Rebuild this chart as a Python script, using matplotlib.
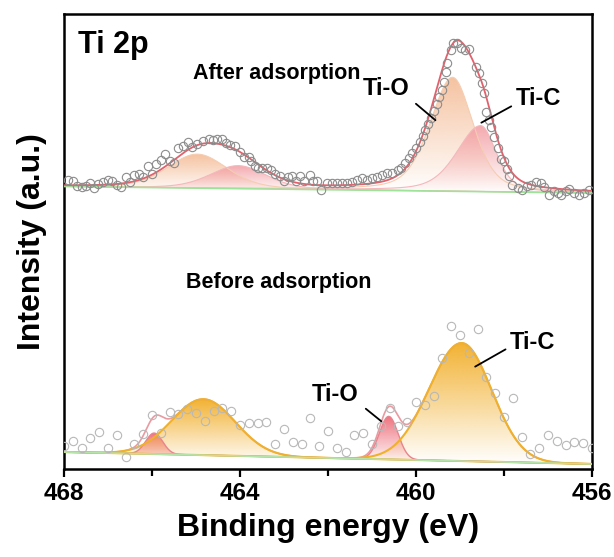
import numpy as np
import matplotlib
matplotlib.use("Agg")
import matplotlib.pyplot as plt
from matplotlib.path import Path
from matplotlib.patches import PathPatch
from matplotlib.colors import to_rgb

plt.rcParams['font.family'] = ['Liberation Sans', 'DejaVu Sans']
plt.rcParams['font.weight'] = 'bold'

# ---------------- data ----------------
# After adsorption: measured points (binding energy, intensity)
after_energy = [467.92, 467.80, 467.71, 467.60, 467.50, 467.41, 467.31, 467.22, 467.12, 467.01,
                466.91, 466.80, 466.70, 466.59, 466.50, 466.41, 466.29, 466.21, 466.10, 466.00,
                465.91, 465.79, 465.70, 465.60, 465.51, 465.40, 465.30, 465.19, 465.09, 464.98,
                464.83, 464.71, 464.61, 464.52, 464.41, 464.31, 464.22, 464.11, 464.00, 463.92,
                463.80, 463.74, 463.67, 463.59, 463.50, 463.39, 463.29, 463.20, 463.10, 463.00,
                462.90, 462.81, 462.72, 462.63, 462.54, 462.41, 462.33, 462.24, 462.17, 462.02,
                461.91, 461.79, 461.68, 461.56, 461.45, 461.34, 461.22, 461.11, 460.99, 460.88,
                460.77, 460.65, 460.54, 460.42, 460.34, 460.24, 460.16, 460.08, 460.00, 459.92,
                459.85, 459.79, 459.72, 459.66, 459.59, 459.53, 459.47, 459.42, 459.36, 459.31,
                459.29, 459.21, 459.15, 459.07, 458.98, 458.89, 458.80, 458.64, 458.57, 458.49,
                458.45, 458.41, 458.35, 458.29, 458.23, 458.14, 458.07, 458.00, 457.94, 457.88,
                457.81, 457.69, 457.58, 457.48, 457.39, 457.28, 457.16, 457.09, 456.97, 456.86,
                456.78, 456.71, 456.59, 456.52, 456.40, 456.29, 456.18, 456.07]
after_counts = [289.0, 288.3, 283.3, 282.3, 283.0, 286.3, 280.7, 285.0, 287.3, 289.0,
                288.0, 284.0, 282.3, 292.3, 286.7, 294.0, 295.0, 292.3, 303.0, 294.7,
                305.0, 309.0, 314.7, 308.0, 305.7, 320.7, 323.0, 326.7, 321.7, 325.0,
                328.3, 329.7, 329.0, 329.7, 329.7, 325.7, 324.0, 323.3, 317.3, 312.0,
                312.3, 308.0, 303.0, 301.5, 301.0, 300.7, 299.0, 295.0, 293.0, 288.0,
                292.0, 293.0, 288.0, 293.0, 288.0, 294.0, 288.0, 288.0, 279.0, 286.0,
                286.0, 286.3, 285.7, 285.7, 287.3, 289.0, 290.7, 289.0, 290.7, 292.3,
                294.0, 295.7, 295.7, 299.0, 300.7, 305.7, 310.7, 315.7, 320.7, 327.3,
                333.0, 339.0, 345.0, 351.0, 358.0, 365.0, 372.0, 379.0, 387.0, 397.0,
                406.3, 419.0, 425.7, 426.3, 420.7, 419.0, 419.7, 402.3, 395.7, 385.7,
                375.7, 357.3, 349.0, 342.0, 332.3, 321.0, 309.7, 308.3, 300.0, 293.0,
                284.0, 280.7, 279.0, 283.0, 284.0, 287.3, 285.7, 281.7, 274.0, 278.3,
                275.7, 274.0, 278.3, 279.7, 275.7, 274.0, 276.3, 279.0]

# After adsorption: fitted components (Ti-O 2p1/2, Ti-C 2p1/2, Ti-O 2p3/2, Ti-C 2p3/2)
after_center = [464.97, 464.04, 459.17, 458.53]
after_height = [34, 23, 114, 66]
after_fwhm_high = [1.6, 1.5, 1.2, 1.28]
after_fwhm_low = [1.6, 1.5, 1.1, 0.83]
after_lorentz = [0.3, 0.3, 0.4, 0.4]
after_species = ['Ti-O', 'Ti-C', 'Ti-O', 'Ti-C']
after_background = [282.5, 276.0]  # at 468 and 456 eV

# Before adsorption: measured points
before_energy = [468.0, 467.8, 467.6, 467.4, 467.2, 467.0, 466.8, 466.6, 466.4, 466.2,
                 466.0, 465.8, 465.6, 465.4, 465.2, 465.0, 464.8, 464.6, 464.4, 464.2,
                 464.0, 463.8, 463.6, 463.4, 463.2, 463.0, 462.8, 462.6, 462.4, 462.2,
                 462.0, 461.8, 461.6, 461.4, 461.2, 461.0, 460.8, 460.6, 460.4, 460.2,
                 460.0, 459.8, 459.6, 459.4, 459.2, 459.0, 458.8, 458.6, 458.4, 458.2,
                 458.0, 457.8, 457.6, 457.4, 457.2, 457.0, 456.8, 456.6, 456.4, 456.2,
                 456.0]
before_counts = [23.0, 28.3, 20.7, 30.7, 37.3, 20.7, 34.0, 11.7, 25.0, 35.0,
                 54.0, 36.3, 57.3, 55.0, 59.7, 56.3, 48.3, 58.3, 60.7, 58.3,
                 44.0, 45.7, 46.5, 47.3, 25.3, 39.8, 27.3, 25.0, 51.3, 23.3,
                 38.3, 20.7, 17.3, 34.3, 36.3, 25.3, 43.5, 61.5, 42.7, 47.3,
                 67.0, 64.0, 72.7, 111.5, 142.7, 134.3, 116.3, 139.7, 92.3, 75.7,
                 52.3, 70.7, 32.3, 14.7, 21.3, 34.0, 28.0, 24.0, 27.3, 26.3,
                 20.7]

# Before adsorption: fitted components (Ti-O 2p1/2, Ti-C 2p1/2, Ti-O 2p3/2, Ti-C 2p3/2)
before_center = [465.95, 464.83, 460.62, 458.96]
before_height = [21, 56, 43, 118]
before_fwhm_high = [0.45, 1.7, 0.5, 1.75]
before_fwhm_low = [0.45, 1.7, 0.5, 1.6]
before_lorentz = [0.0, 0.0, 0.0, 0.0]
before_species = ['Ti-O', 'Ti-C', 'Ti-O', 'Ti-C']
before_background = [17.0, 5.0]

x_ticks = [468, 464, 460, 456]


def peak(e, c, h, w_hi, w_lo, eta):
    w = np.where(e >= c, w_hi, w_lo)
    d = (e - c) / w
    g = np.exp(-4 * np.log(2) * d ** 2)
    lor = 1 / (1 + 4 * d ** 2)
    return h * ((1 - eta) * g + eta * lor)


def gradient_fill(ax, x, y_top, y_base, color, a_top, a_bot, zorder):
    verts = np.vstack([np.column_stack([x, y_top]),
                       np.column_stack([x[::-1], y_base[::-1]])])
    patch = PathPatch(Path(verts), facecolor='none', edgecolor='none')
    ax.add_patch(patch)
    rgba = np.zeros((256, 1, 4))
    rgba[:, :, :3] = to_rgb(color)
    rgba[:, 0, 3] = np.linspace(a_bot, a_top, 256)
    im = ax.imshow(rgba, aspect='auto', origin='lower', interpolation='bilinear',
                   extent=[x.min(), x.max(), y_base.min(), y_top.max()], zorder=zorder)
    im.set_clip_path(patch)


fig = plt.figure(figsize=(6.14, 5.57), dpi=100)
ax = fig.add_axes([64 / 614, 1 - 469 / 557, 528 / 614, 455 / 557])

e = np.linspace(468, 456, 1500)

# ---------------- after adsorption ----------------
bg_a = np.interp(e, [456, 468], after_background[::-1])
env_a = bg_a.copy()
after_style = {'Ti-O': ('#F4B890', '#F5CDB2'), 'Ti-C': ('#F29AA0', '#F4B8BC')}
for i in range(4):
    comp = peak(e, after_center[i], after_height[i], after_fwhm_high[i],
                after_fwhm_low[i], after_lorentz[i])
    env_a += comp
    fill_c, edge_c = after_style[after_species[i]]
    gradient_fill(ax, e, bg_a + comp, bg_a, fill_c, 0.85, 0.0, 2 + i * 0.1)
    ax.plot(e, bg_a + comp, color=edge_c, lw=0.8, zorder=3)
ax.plot([468, 456], after_background, color='#9EE39A', lw=1.2, zorder=4)
ax.plot(e, env_a, color='#E2616C', lw=1.3, zorder=5)
ax.plot(after_energy, after_counts, 'o', ms=6, mfc='none', mec='#8C8C8C', mew=0.8, zorder=6)

# ---------------- before adsorption ----------------
bg_b = np.interp(e, [456, 468], before_background[::-1])
env_b = bg_b.copy()
comps_b = []
for i in range(4):
    comp = peak(e, before_center[i], before_height[i], before_fwhm_high[i],
                before_fwhm_low[i], before_lorentz[i])
    env_b += comp
    comps_b.append(comp)
ax.plot(e, env_b, color='#EA9AA0', lw=1.2, zorder=3)
before_style = {'Ti-O': ('#EE6B78', '#E8848D', 1.0), 'Ti-C': ('#F2AE28', '#F0B12A', 1.5)}
for i in range(4):
    fill_c, edge_c, lw = before_style[before_species[i]]
    gradient_fill(ax, e, bg_b + comps_b[i], bg_b, fill_c, 0.95, 0.0, 2 + i * 0.1)
    ax.plot(e, bg_b + comps_b[i], color=edge_c, lw=lw, zorder=4)
ax.plot([468, 456], before_background, color='#B5E3A8', lw=1.2, zorder=4)
ax.plot(before_energy, before_counts, 'o', ms=6, mfc='none', mec='#B8B8B8', mew=0.8, zorder=6)

# ---------------- labels ----------------
ax.text(0.027, 0.932, 'Ti 2p', transform=ax.transAxes, fontsize=22, fontweight='bold',
        ha='left', va='center')
ax.text(0.403, 0.870, 'After adsorption', transform=ax.transAxes, fontsize=15.5,
        fontweight='bold', ha='center', va='center')
ax.text(0.407, 0.409, 'Before adsorption', transform=ax.transAxes, fontsize=15.5,
        fontweight='bold', ha='center', va='center')

notes = [('Ti-O', 0.610, 0.837, (460.05, 367), (459.51, 347)),
         ('Ti-C', 0.898, 0.815, (457.78, 364), (458.57, 345)),
         ('Ti-O', 0.513, 0.163, (461.19, 62), (460.74, 46)),
         ('Ti-C', 0.888, 0.277, (457.91, 121), (458.71, 101))]
for label, tx, ty, p0, p1 in notes:
    ax.text(tx, ty, label, transform=ax.transAxes, fontsize=17, fontweight='bold',
            ha='center', va='center', zorder=8)
    ax.annotate('', xy=p1, xytext=p0,
                arrowprops=dict(arrowstyle='-', color='black', lw=1.3), zorder=8)

ax.set_xlim(468, 456)
ax.set_ylim(0, 455)
ax.set_xticks(x_ticks)
ax.set_xticks([466, 462, 458], minor=True)
ax.set_yticks([])
ax.tick_params(axis='x', which='major', direction='out', length=6, width=1.6,
               labelsize=17.5, pad=3)
ax.tick_params(axis='x', which='minor', direction='out', length=5, width=1.6)
for lab in ax.get_xticklabels():
    lab.set_fontweight('bold')
for sp in ax.spines.values():
    sp.set_linewidth(1.8)

ax.set_xlabel('Binding energy (eV)', fontsize=23, fontweight='bold', labelpad=6)
ax.set_ylabel('Intensity (a.u.)', fontsize=23, fontweight='bold')
ax.yaxis.set_label_coords(-0.032, 0.5)

fig.savefig('out.png', dpi=100)
